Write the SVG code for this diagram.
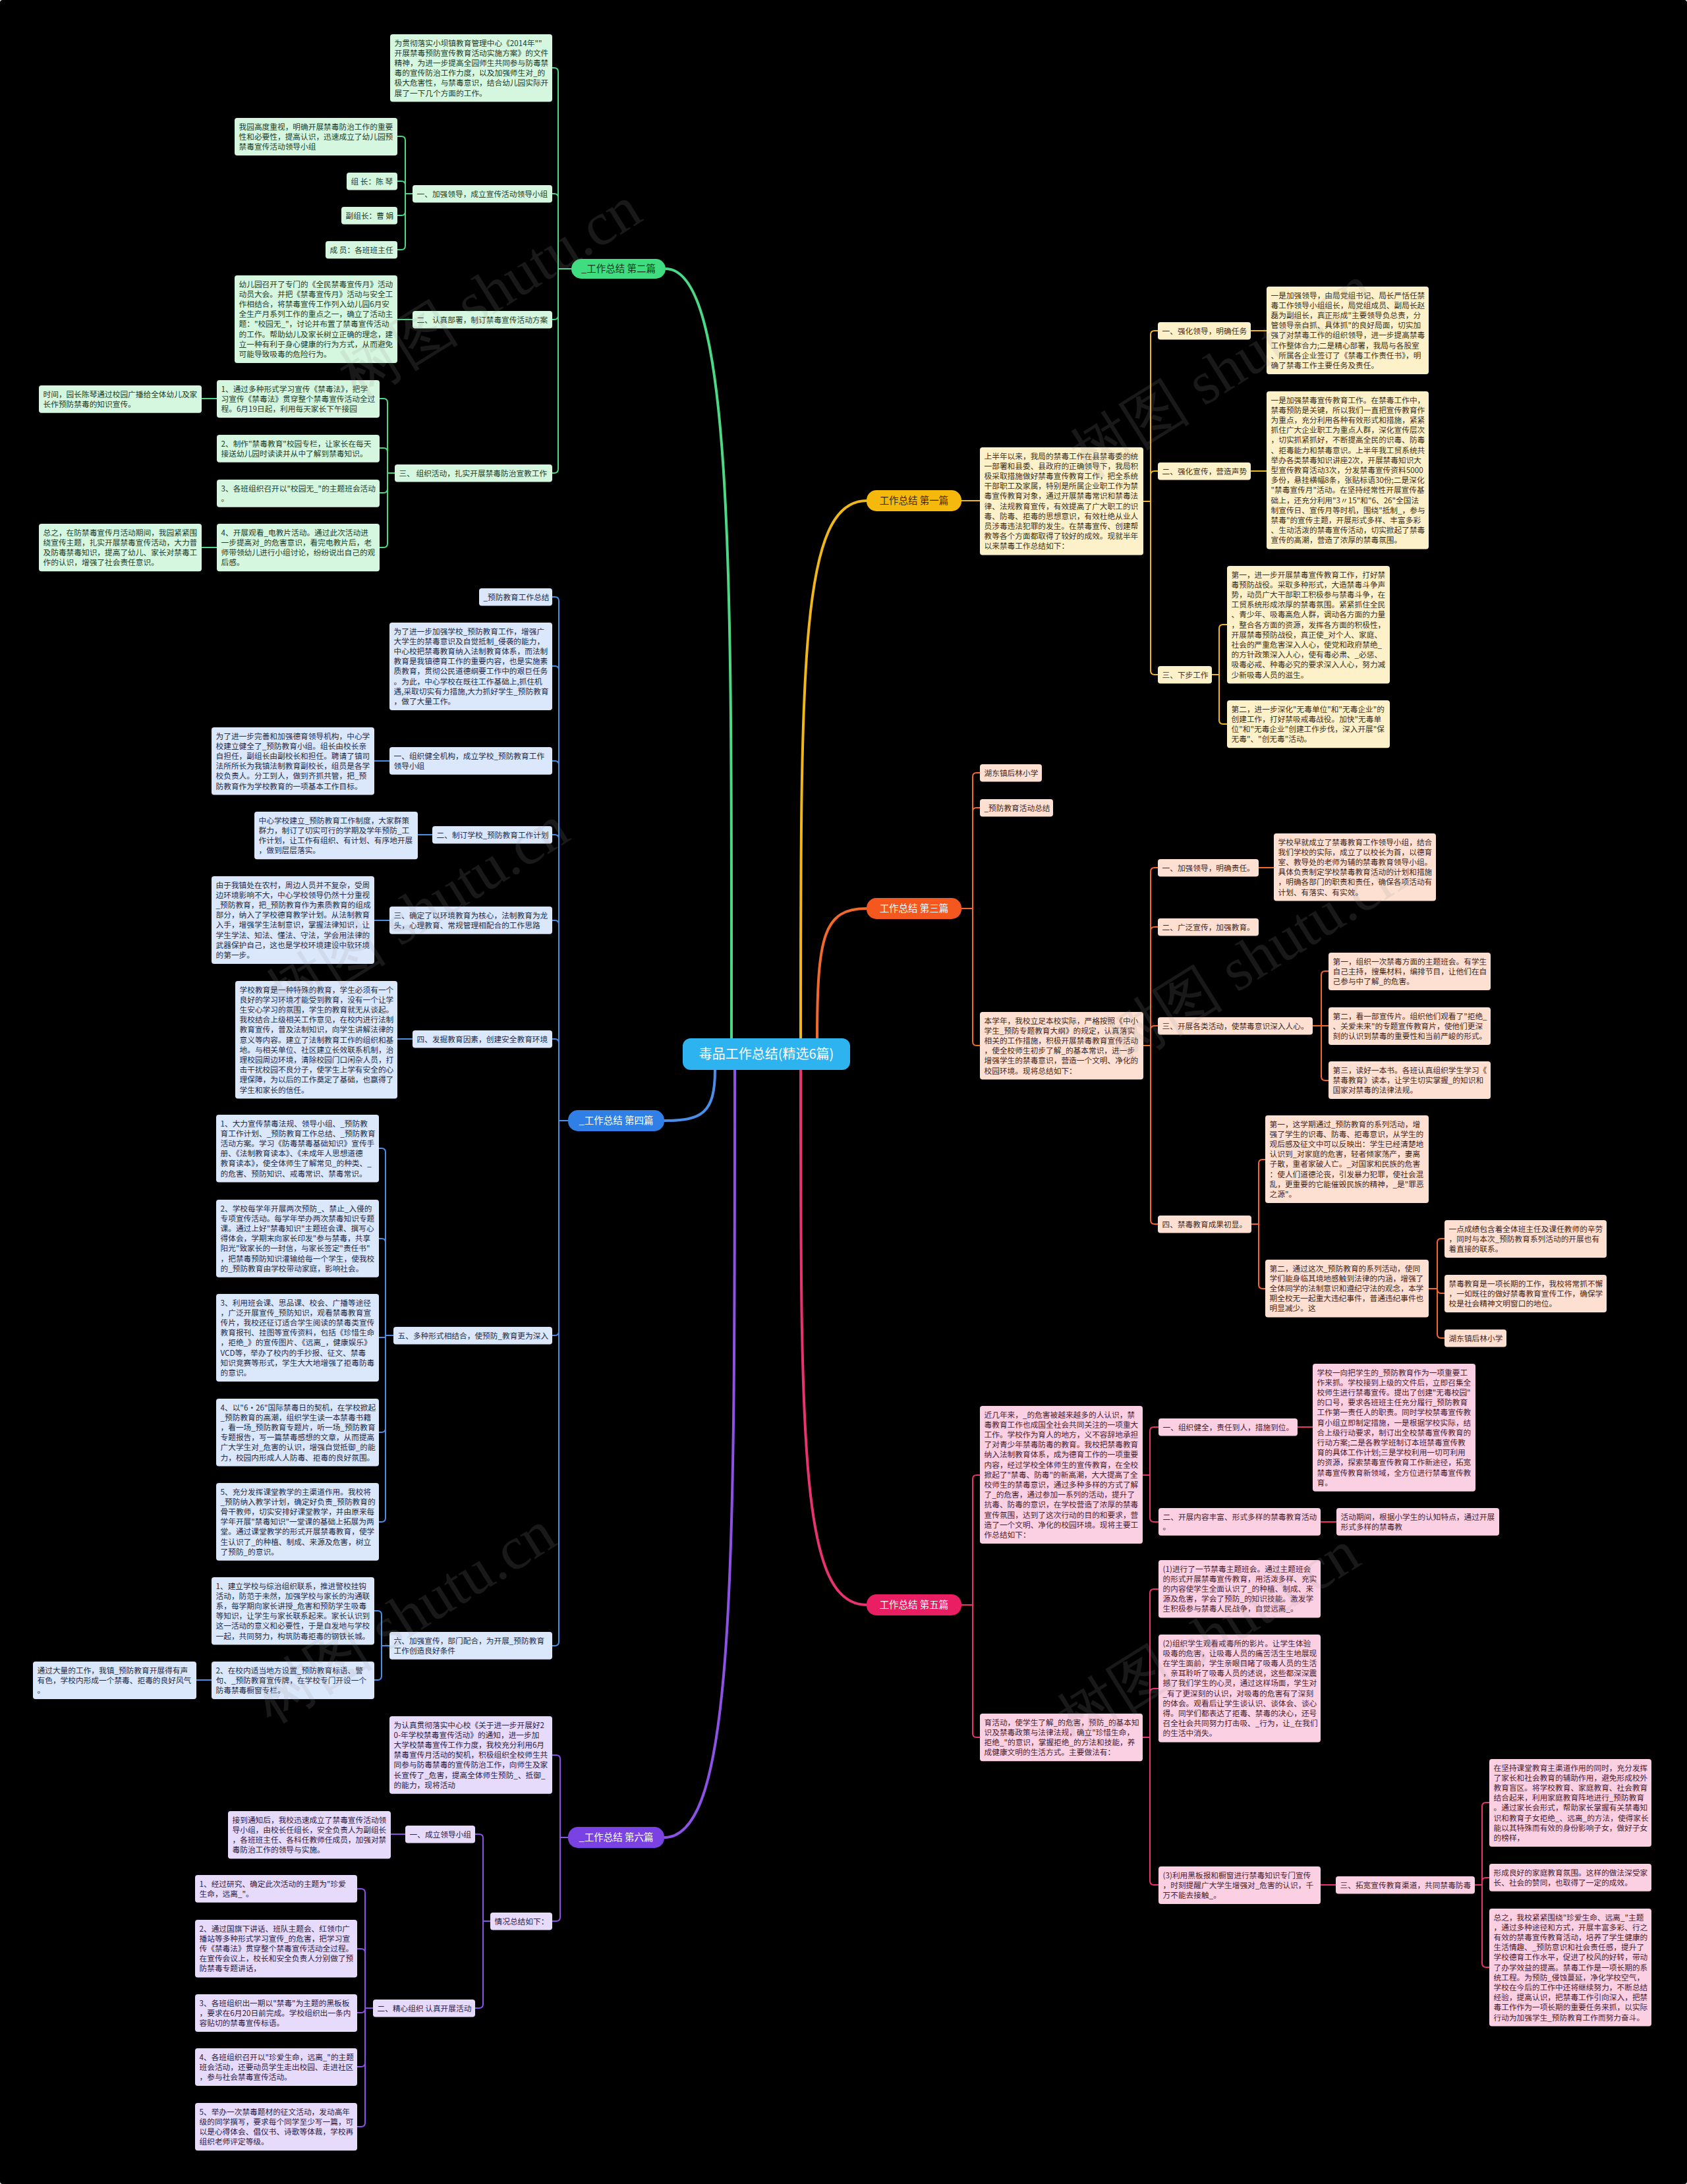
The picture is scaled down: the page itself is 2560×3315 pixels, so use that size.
<svg xmlns="http://www.w3.org/2000/svg" width="2560" height="3315" viewBox="0 0 2560 3315">
<style>
text{font-family:"Noto Sans CJK SC","Noto Sans",sans-serif;font-size:11.7px}
rect{rx:4px;ry:4px}
.gr rect{fill:#d5f6df}.gr text{fill:#23402d}
.bl rect{fill:#dbe7fb}.bl text{fill:#1f2d4a}
.pu rect{fill:#e7dbfb}.pu text{fill:#2e2146}
.ye rect{fill:#fdf1c9}.ye text{fill:#3d321c}
.or rect{fill:#fde0d2}.or text{fill:#45281c}
.pk rect{fill:#fbd0e3}.pk text{fill:#4a1d31}
#connectors path{fill:none;stroke-width:2}
.cg{stroke:#4cd986}.cb{stroke:#4a8ee8}.cp{stroke:#8c52e6}.cy{stroke:#efb719}.co{stroke:#f26a2b}.ck{stroke:#e8336f}
#connectors .m{stroke-width:4}
.br rect{rx:15px;ry:15px}
.br text{font-size:14.5px;text-anchor:middle}
.wm{font-family:"Liberation Serif",serif;font-size:92px;fill:#9a9a9a;opacity:0.16;text-anchor:middle}
</style>
<rect x="0" y="0" width="2560" height="3315" fill="#000" rx="0" ry="0"/>
<g id="connectors">
<path class="cg m" d="M1110,1577 C1110,900 1115,408 1010,408"/>
<path class="cb m" d="M1085,1624 C1085,1690 1065,1701 1008,1701"/>
<path class="cp m" d="M1115,1624 C1115,2400 1115,2789 1008,2789"/>
<path class="cy m" d="M1215,1577 C1215,1000 1215,760 1315,760"/>
<path class="co m" d="M1240,1577 C1240,1420 1250,1379 1315,1379"/>
<path class="ck m" d="M1215,1624 C1215,2200 1215,2436 1315,2436"/>
<path class="cg" d="M867,408 H847 V109 Q847,103 841,103 H838"/>
<path class="cg" d="M867,408 H847 V300 Q847,294 841,294 H838"/>
<path class="cg" d="M867,408 H847 V479 Q847,485 841,485 H838"/>
<path class="cg" d="M867,408 H847 V712 Q847,718 841,718 H838"/>
<path class="cg" d="M626,294 H615 V213 Q615,207 609,207 H603"/>
<path class="cg" d="M626,294 H615 V281 Q615,275 609,275 H603"/>
<path class="cg" d="M626,294 H615 V321 Q615,327 609,327 H603"/>
<path class="cg" d="M626,294 H615 V373 Q615,379 609,379 H603"/>
<path class="cg" d="M626,485 H603"/>
<path class="cg" d="M599,718 H588 V611 Q588,605 582,605 H576"/>
<path class="cg" d="M599,718 H588 V686 Q588,680 582,680 H576"/>
<path class="cg" d="M599,718 H588 V742 Q588,748 582,748 H576"/>
<path class="cg" d="M599,718 H588 V825 Q588,831 582,831 H576"/>
<path class="cg" d="M329,605 H306"/>
<path class="cg" d="M329,831 H306"/>
<path class="cb" d="M862,1701 H848 V912 Q848,906 842,906 H838"/>
<path class="cb" d="M862,1701 H848 V1017 Q848,1011 842,1011 H838"/>
<path class="cb" d="M862,1701 H848 V1161 Q848,1155 842,1155 H838"/>
<path class="cb" d="M862,1701 H848 V1273 Q848,1267 842,1267 H838"/>
<path class="cb" d="M862,1701 H848 V1403 Q848,1397 842,1397 H838"/>
<path class="cb" d="M862,1701 H848 V1583 Q848,1577 842,1577 H838"/>
<path class="cb" d="M862,1701 H848 V2021 Q848,2027 842,2027 H838"/>
<path class="cb" d="M862,1701 H848 V2492 Q848,2498 842,2498 H838"/>
<path class="cb" d="M591,1155 H568"/>
<path class="cb" d="M656,1267 H634"/>
<path class="cb" d="M591,1397 H568"/>
<path class="cb" d="M626,1577 H603"/>
<path class="cb" d="M597,2027 H585 V1749 Q585,1743 579,1743 H575"/>
<path class="cb" d="M597,2027 H585 V1886 Q585,1880 579,1880 H575"/>
<path class="cb" d="M597,2027 H585 V2030 H575"/>
<path class="cb" d="M597,2027 H585 V2168 Q585,2174 579,2174 H575"/>
<path class="cb" d="M597,2027 H585 V2304 Q585,2310 579,2310 H575"/>
<path class="cb" d="M591,2498 H579 V2451 Q579,2445 573,2445 H568"/>
<path class="cb" d="M591,2498 H579 V2544 Q579,2550 573,2550 H568"/>
<path class="cb" d="M321,2550 H298"/>
<path class="cp" d="M862,2789 H850 V2670 Q850,2664 844,2664 H838"/>
<path class="cp" d="M862,2789 H850 V2910 Q850,2916 844,2916 H838"/>
<path class="cp" d="M744,2916 H733 V2790 Q733,2784 727,2784 H721"/>
<path class="cp" d="M744,2916 H733 V3042 Q733,3048 727,3048 H721"/>
<path class="cp" d="M615,2784 H593"/>
<path class="cp" d="M566,3048 H554 V2873 Q554,2867 548,2867 H542"/>
<path class="cp" d="M566,3048 H554 V2964 Q554,2958 548,2958 H542"/>
<path class="cp" d="M566,3048 H554 V3049 Q554,3055 548,3055 H542"/>
<path class="cp" d="M566,3048 H554 V3131 Q554,3137 548,3137 H542"/>
<path class="cp" d="M566,3048 H554 V3222 Q554,3228 548,3228 H542"/>
<path class="cy" d="M1459,760 H1487"/>
<path class="cy" d="M1735,761 H1746 V508 Q1746,502 1752,502 H1757"/>
<path class="cy" d="M1735,761 H1746 V721 Q1746,715 1752,715 H1757"/>
<path class="cy" d="M1735,761 H1746 V1018 Q1746,1024 1752,1024 H1757"/>
<path class="cy" d="M1898,502 H1922"/>
<path class="cy" d="M1898,715 H1922"/>
<path class="cy" d="M1839,1024 H1850 V954 Q1850,948 1856,948 H1862"/>
<path class="cy" d="M1839,1024 H1850 V1093 Q1850,1099 1856,1099 H1862"/>
<path class="co" d="M1459,1379 H1476 V1179 Q1476,1173 1482,1173 H1487"/>
<path class="co" d="M1459,1379 H1476 V1232 Q1476,1226 1482,1226 H1487"/>
<path class="co" d="M1459,1379 H1476 V1581 Q1476,1587 1482,1587 H1487"/>
<path class="co" d="M1735,1587 H1746 V1323 Q1746,1317 1752,1317 H1757"/>
<path class="co" d="M1735,1587 H1746 V1413 Q1746,1407 1752,1407 H1757"/>
<path class="co" d="M1735,1587 H1746 V1563 Q1746,1557 1752,1557 H1757"/>
<path class="co" d="M1735,1587 H1746 V1852 Q1746,1858 1752,1858 H1757"/>
<path class="co" d="M1910,1317 H1933"/>
<path class="co" d="M1992,1557 H2005 V1480 Q2005,1474 2011,1474 H2016"/>
<path class="co" d="M1992,1557 H2016"/>
<path class="co" d="M1992,1557 H2005 V1634 Q2005,1640 2011,1640 H2016"/>
<path class="co" d="M1899,1858 H1910 V1766 Q1910,1760 1916,1760 H1920"/>
<path class="co" d="M1899,1858 H1910 V1950 Q1910,1956 1916,1956 H1920"/>
<path class="co" d="M2168,1956 H2181 V1886 Q2181,1880 2187,1880 H2192"/>
<path class="co" d="M2168,1956 H2181 V1957 Q2181,1963 2187,1963 H2192"/>
<path class="co" d="M2168,1956 H2181 V2025 Q2181,2031 2187,2031 H2192"/>
<path class="ck" d="M1459,2436 H1476 V2245 Q1476,2239 1482,2239 H1487"/>
<path class="ck" d="M1459,2436 H1476 V2631 Q1476,2637 1482,2637 H1487"/>
<path class="ck" d="M1734,2239 H1745 V2172 Q1745,2166 1751,2166 H1758"/>
<path class="ck" d="M1734,2239 H1745 V2304 Q1745,2310 1751,2310 H1758"/>
<path class="ck" d="M1969,2166 H1992"/>
<path class="ck" d="M2004,2310 H2028"/>
<path class="ck" d="M1734,2637 H1745 V2418 Q1745,2412 1751,2412 H1758"/>
<path class="ck" d="M1734,2637 H1745 V2569 Q1745,2563 1751,2563 H1758"/>
<path class="ck" d="M1734,2637 H1745 V2855 Q1745,2861 1751,2861 H1758"/>
<path class="ck" d="M2004,2861 H2027"/>
<path class="ck" d="M2238,2861 H2249 V2742 Q2249,2736 2255,2736 H2260"/>
<path class="ck" d="M2238,2861 H2249 V2856 Q2249,2850 2255,2850 H2260"/>
<path class="ck" d="M2238,2861 H2249 V2980 Q2249,2986 2255,2986 H2260"/>
</g>

<g id="center"><rect x="1036" y="1576" width="254" height="48" fill="#2db4f0" style="rx:12px;ry:12px"/><text x="1163" y="1607" style="font-size:20px;text-anchor:middle;fill:#fff">毒品工作总结(精选6篇)</text></g>

<g id="branch2" class="br"><rect x="867" y="393" width="143" height="30" style="fill:#3fdc80"/><text x="938.5" y="413" style="fill:#14361f">_工作总结 第二篇</text></g>
<g id="branch1" class="br"><rect x="1315" y="744" width="144" height="32" style="fill:#f5b90e"/><text x="1387" y="765" style="fill:#3a2a00">工作总结 第一篇</text></g>
<g id="branch3" class="br"><rect x="1315" y="1363" width="144" height="32" style="fill:#f4581f"/><text x="1387" y="1384" style="fill:#fff">工作总结 第三篇</text></g>
<g id="branch4" class="br"><rect x="862" y="1685" width="146" height="32" style="fill:#2f7fe6"/><text x="935" y="1706" style="fill:#fff">_工作总结 第四篇</text></g>
<g id="branch5" class="br"><rect x="1315" y="2420" width="144" height="32" style="fill:#e91e63"/><text x="1387" y="2441" style="fill:#fff">工作总结 第五篇</text></g>
<g id="branch6" class="br"><rect x="862" y="2773" width="146" height="32" style="fill:#7b42e3"/><text x="935" y="2794" style="fill:#fff">_工作总结 第六篇</text></g>

<g id="G0" class="gr"><rect x="592" y="52" width="246" height="102.6"/><text x="598.5" y="69.6"><tspan x="598.5">为贯彻落实小坝镇教育管理中心《2014年""</tspan><tspan x="598.5" dy="15.2">开展禁毒预防宣传教育活动实施方案》的文件</tspan><tspan x="598.5" dy="15.2">精神，为进一步提高全园师生共同参与防毒禁</tspan><tspan x="598.5" dy="15.2">毒的宣传防治工作力度，以及加强师生对_的</tspan><tspan x="598.5" dy="15.2">极大危害性，与禁毒意识，结合幼儿园实际开</tspan><tspan x="598.5" dy="15.2">展了一下几个方面的工作。</tspan></text></g>
<g id="G1" class="gr"><rect x="626" y="281" width="212" height="26.6"/><text x="632.5" y="298.6">一、加强领导，成立宣传活动领导小组</text></g>
<g id="G1a" class="gr"><rect x="356" y="179" width="247" height="57"/><text x="362.5" y="196.6"><tspan x="362.5">我园高度重视，明确开展禁毒防治工作的重要</tspan><tspan x="362.5" dy="15.2">性和必要性，提高认识，迅速成立了幼儿园预</tspan><tspan x="362.5" dy="15.2">禁毒宣传活动领导小组</tspan></text></g>
<g id="G1b" class="gr"><rect x="526" y="262" width="77" height="26.6"/><text x="532.5" y="279.6">组 长：陈 琴</text></g>
<g id="G1c" class="gr"><rect x="518" y="314" width="85" height="26.6"/><text x="524.5" y="331.6">副组长：曹 娟</text></g>
<g id="G1d" class="gr"><rect x="494" y="366" width="109" height="26.6"/><text x="500.5" y="383.6">成 员：各班班主任</text></g>
<g id="G2" class="gr"><rect x="626" y="472" width="212" height="26.6"/><text x="632.5" y="489.6">二、认真部署，制订禁毒宣传活动方案</text></g>
<g id="G2a" class="gr"><rect x="356" y="418" width="247" height="133"/><text x="362.5" y="435.6"><tspan x="362.5">幼儿园召开了专门的《全民禁毒宣传月》活动</tspan><tspan x="362.5" dy="15.2">动员大会。并把《禁毒宣传月》活动与安全工</tspan><tspan x="362.5" dy="15.2">作相结合，将禁毒宣传工作列入幼儿园6月安</tspan><tspan x="362.5" dy="15.2">全生产月系列工作的重点之一，确立了活动主</tspan><tspan x="362.5" dy="15.2">题："校园无_"，讨论并布置了禁毒宣传活动</tspan><tspan x="362.5" dy="15.2">的工作。帮助幼儿及家长树立正确的理念，建</tspan><tspan x="362.5" dy="15.2">立一种有利于身心健康的行为方式，从而避免</tspan><tspan x="362.5" dy="15.2">可能导致吸毒的危险行为。</tspan></text></g>
<g id="G3" class="gr"><rect x="599" y="705" width="239" height="26.6"/><text x="605.5" y="722.6">三、 组织活动，扎实开展禁毒防治宣教工作</text></g>
<g id="G3a" class="gr"><rect x="329" y="577" width="247" height="57"/><text x="335.5" y="594.6"><tspan x="335.5">1、通过多种形式学习宣传《禁毒法》，把学</tspan><tspan x="335.5" dy="15.2">习宣传《禁毒法》贯穿整个禁毒宣传活动全过</tspan><tspan x="335.5" dy="15.2">程。6月19日起，利用每天家长下午接园</tspan></text></g>
<g id="G3a1" class="gr"><rect x="59" y="585" width="247" height="41.8"/><text x="65.5" y="602.6"><tspan x="65.5">时间，园长陈琴通过校园广播给全体幼儿及家</tspan><tspan x="65.5" dy="15.2">长作预防禁毒的知识宣传。</tspan></text></g>
<g id="G3b" class="gr"><rect x="329" y="660" width="247" height="41.8"/><text x="335.5" y="677.6"><tspan x="335.5">2、制作"禁毒教育"校园专栏，让家长在每天</tspan><tspan x="335.5" dy="15.2">接送幼儿园时读读并从中了解到禁毒知识。</tspan></text></g>
<g id="G3c" class="gr"><rect x="329" y="728" width="247" height="41.8"/><text x="335.5" y="745.6"><tspan x="335.5">3、各班组织召开以"校园无_"的主题班会活动</tspan><tspan x="335.5" dy="15.2">。</tspan></text></g>
<g id="G3d" class="gr"><rect x="329" y="795" width="247" height="72.2"/><text x="335.5" y="812.6"><tspan x="335.5">4、开展观看_电教片活动。通过此次活动进</tspan><tspan x="335.5" dy="15.2">一步提高对_的危害意识，看完电教片后，老</tspan><tspan x="335.5" dy="15.2">师带领幼儿进行小组讨论，纷纷说出自己的观</tspan><tspan x="335.5" dy="15.2">后感。</tspan></text></g>
<g id="G3d1" class="gr"><rect x="59" y="795" width="247" height="72.2"/><text x="65.5" y="812.6"><tspan x="65.5">总之，在防禁毒宣传月活动期间，我园紧紧围</tspan><tspan x="65.5" dy="15.2">绕宣传主题，扎实开展禁毒宣传活动，大力普</tspan><tspan x="65.5" dy="15.2">及防毒禁毒知识，提高了幼儿、家长对禁毒工</tspan><tspan x="65.5" dy="15.2">作的认识，增强了社会责任意识。</tspan></text></g>

<g id="B0" class="bl"><rect x="727" y="893" width="111" height="26.6"/><text x="733.5" y="910.6">_预防教育工作总结</text></g>
<g id="B1" class="bl"><rect x="591" y="945" width="247" height="133"/><text x="597.5" y="962.6"><tspan x="597.5">为了进一步加强学校_预防教育工作，增强广</tspan><tspan x="597.5" dy="15.2">大学生的禁毒意识及自觉抵制_侵袭的能力，</tspan><tspan x="597.5" dy="15.2">中心校把禁毒教育纳入法制教育体系，而法制</tspan><tspan x="597.5" dy="15.2">教育是我镇德育工作的重要内容，也是实施素</tspan><tspan x="597.5" dy="15.2">质教育，贯彻公民道德纲要工作中的艰巨任务</tspan><tspan x="597.5" dy="15.2">。为此，中心学校在既往工作基础上,抓住机</tspan><tspan x="597.5" dy="15.2">遇,采取切实有力措施,大力抓好学生_预防教育</tspan><tspan x="597.5" dy="15.2">，做了大量工作。</tspan></text></g>
<g id="B2" class="bl"><rect x="591" y="1134" width="247" height="41.8"/><text x="597.5" y="1151.6"><tspan x="597.5">一、组织健全机构，成立学校_预防教育工作</tspan><tspan x="597.5" dy="15.2">领导小组</tspan></text></g>
<g id="B2a" class="bl"><rect x="321" y="1104" width="247" height="102.6"/><text x="327.5" y="1121.6"><tspan x="327.5">为了进一步完善和加强德育领导机构，中心学</tspan><tspan x="327.5" dy="15.2">校建立健全了_预防教育小组。组长由校长亲</tspan><tspan x="327.5" dy="15.2">自担任，副组长由副校长和担任。聘请了镇司</tspan><tspan x="327.5" dy="15.2">法所所长为我镇法制教育副校长，组员是各学</tspan><tspan x="327.5" dy="15.2">校负责人。分工到人，做到齐抓共管，把_预</tspan><tspan x="327.5" dy="15.2">防教育作为学校教育的一项基本工作目标。</tspan></text></g>
<g id="B3" class="bl"><rect x="656" y="1254" width="182" height="26.6"/><text x="662.5" y="1271.6">二、制订学校_预防教育工作计划</text></g>
<g id="B3a" class="bl"><rect x="386" y="1232" width="248" height="72.2"/><text x="392.5" y="1249.6"><tspan x="392.5">中心学校建立_预防教育工作制度，大家群策</tspan><tspan x="392.5" dy="15.2">群力，制订了切实可行的学期及学年预防_工</tspan><tspan x="392.5" dy="15.2">作计划，让工作有组织、有计划、有序地开展</tspan><tspan x="392.5" dy="15.2">，做到层层落实。</tspan></text></g>
<g id="B4" class="bl"><rect x="591" y="1376" width="247" height="41.8"/><text x="597.5" y="1393.6"><tspan x="597.5">三、确定了以环境教育为核心，法制教育为龙</tspan><tspan x="597.5" dy="15.2">头，心理教育、常规管理相配合的工作思路</tspan></text></g>
<g id="B4a" class="bl"><rect x="321" y="1330" width="247" height="133"/><text x="327.5" y="1347.6"><tspan x="327.5">由于我镇处在农村，周边人员并不复杂，受周</tspan><tspan x="327.5" dy="15.2">边环境影响不大，中心学校领导仍然十分重视</tspan><tspan x="327.5" dy="15.2">_预防教育，把_预防教育作为素质教育的组成</tspan><tspan x="327.5" dy="15.2">部分，纳入了学校德育教学计划。从法制教育</tspan><tspan x="327.5" dy="15.2">入手，增强学生法制意识，掌握法律知识，让</tspan><tspan x="327.5" dy="15.2">学生学法、知法、懂法、守法，学会用法律的</tspan><tspan x="327.5" dy="15.2">武器保护自己，这也是学校环境建设中软环境</tspan><tspan x="327.5" dy="15.2">的第一步。</tspan></text></g>
<g id="B5" class="bl"><rect x="626" y="1564" width="212" height="26.6"/><text x="632.5" y="1581.6">四、发掘教育因素，创建安全教育环境</text></g>
<g id="B5a" class="bl"><rect x="357" y="1489" width="246" height="178.6"/><text x="363.5" y="1506.6"><tspan x="363.5">学校教育是一种特殊的教育，学生必须有一个</tspan><tspan x="363.5" dy="15.2">良好的学习环境才能受到教育，没有一个让学</tspan><tspan x="363.5" dy="15.2">生安心学习的氛围，学生的教育就无从谈起。</tspan><tspan x="363.5" dy="15.2">我校结合上级相关工作意见，在校内进行法制</tspan><tspan x="363.5" dy="15.2">教育宣传，普及法制知识，向学生讲解法律的</tspan><tspan x="363.5" dy="15.2">意义等内容。建立了法制教育工作的组织和基</tspan><tspan x="363.5" dy="15.2">地。与相关单位、社区建立长效联系机制，治</tspan><tspan x="363.5" dy="15.2">理校园周边环境，清除校园门口闲杂人员，打</tspan><tspan x="363.5" dy="15.2">击干扰校园不良分子，使学生上学有安全的心</tspan><tspan x="363.5" dy="15.2">理保障，为以后的工作奠定了基础，也赢得了</tspan><tspan x="363.5" dy="15.2">学生和家长的信任。</tspan></text></g>
<g id="B6" class="bl"><rect x="597" y="2014" width="241" height="26.6"/><text x="603.5" y="2031.6">五、多种形式相结合，使预防_教育更为深入</text></g>
<g id="B6a" class="bl"><rect x="328" y="1692" width="247" height="102.6"/><text x="334.5" y="1709.6"><tspan x="334.5">1、大力宣传禁毒法规、领导小组、_预防教</tspan><tspan x="334.5" dy="15.2">育工作计划、_预防教育工作总结、_预防教育</tspan><tspan x="334.5" dy="15.2">活动方案。学习《防毒禁毒基础知识》宣传手</tspan><tspan x="334.5" dy="15.2">册、《法制教育读本》、《未成年人思想道德</tspan><tspan x="334.5" dy="15.2">教育读本》，使全体师生了解常见_的种类、_</tspan><tspan x="334.5" dy="15.2">的危害、预防知识、戒毒常识、禁毒常识。</tspan></text></g>
<g id="B6b" class="bl"><rect x="328" y="1821" width="247" height="117.8"/><text x="334.5" y="1838.6"><tspan x="334.5">2、学校每学年开展两次预防_、禁止_入侵的</tspan><tspan x="334.5" dy="15.2">专项宣传活动。每学年举办两次禁毒知识专题</tspan><tspan x="334.5" dy="15.2">课。通过上好"禁毒知识"主题班会课、撰写心</tspan><tspan x="334.5" dy="15.2">得体会，学期末向家长印发"参与禁毒，共享</tspan><tspan x="334.5" dy="15.2">阳光"致家长的一封信，与家长签定"责任书"</tspan><tspan x="334.5" dy="15.2">，把禁毒预防知识灌输给每一个学生，使我校</tspan><tspan x="334.5" dy="15.2">的_预防教育由学校带动家庭，影响社会。</tspan></text></g>
<g id="B6c" class="bl"><rect x="328" y="1964" width="247" height="133"/><text x="334.5" y="1981.6"><tspan x="334.5">3、利用班会课、思品课、校会、广播等途径</tspan><tspan x="334.5" dy="15.2">，广泛开展宣传_预防知识，观看禁毒教育宣</tspan><tspan x="334.5" dy="15.2">传片，我校还征订适合学生阅读的禁毒类宣传</tspan><tspan x="334.5" dy="15.2">教育报刊、挂图等宣传资料，包括《珍惜生命</tspan><tspan x="334.5" dy="15.2">，拒绝_》的宣传图片、《远离_，健康娱乐》</tspan><tspan x="334.5" dy="15.2">VCD等，举办了校内的手抄报、征文、禁毒</tspan><tspan x="334.5" dy="15.2">知识竞赛等形式，学生大大地增强了拒毒防毒</tspan><tspan x="334.5" dy="15.2">的意识。</tspan></text></g>
<g id="B6d" class="bl"><rect x="328" y="2123" width="247" height="102.6"/><text x="334.5" y="2140.6"><tspan x="334.5">4、以"6•26"国际禁毒日的契机，在学校掀起</tspan><tspan x="334.5" dy="15.2">_预防教育的高潮，组织学生读一本禁毒书籍</tspan><tspan x="334.5" dy="15.2">，看一场_预防教育专题片，听一场_预防教育</tspan><tspan x="334.5" dy="15.2">专题报告，写一篇禁毒感想的文章，从而提高</tspan><tspan x="334.5" dy="15.2">广大学生对_危害的认识，增强自觉抵御_的能</tspan><tspan x="334.5" dy="15.2">力，校园内形成人人防毒、拒毒的良好氛围。</tspan></text></g>
<g id="B6e" class="bl"><rect x="328" y="2251" width="247" height="117.8"/><text x="334.5" y="2268.6"><tspan x="334.5">5、充分发挥课堂教学的主渠道作用。我校将</tspan><tspan x="334.5" dy="15.2">_预防纳入教学计划，确定好负责_预防教育的</tspan><tspan x="334.5" dy="15.2">骨干教师，切实安排好课堂教学，并由原来每</tspan><tspan x="334.5" dy="15.2">学年开展"禁毒知识"一堂课的基础上拓展为两</tspan><tspan x="334.5" dy="15.2">堂。通过课堂教学的形式开展禁毒教育，使学</tspan><tspan x="334.5" dy="15.2">生认识了_的种植、制成、来源及危害，树立</tspan><tspan x="334.5" dy="15.2">了预防_的意识。</tspan></text></g>
<g id="B7" class="bl"><rect x="591" y="2477" width="247" height="41.8"/><text x="597.5" y="2494.6"><tspan x="597.5">六、加强宣传，部门配合，为开展_预防教育</tspan><tspan x="597.5" dy="15.2">工作创造良好条件</tspan></text></g>
<g id="B7a" class="bl"><rect x="321" y="2394" width="247" height="102.6"/><text x="327.5" y="2411.6"><tspan x="327.5">1、建立学校与综治组织联系，推进警校挂钩</tspan><tspan x="327.5" dy="15.2">活动，防范于未然，加强学校与家长的沟通联</tspan><tspan x="327.5" dy="15.2">系，每学期向家长讲授_危害和预防学生吸毒</tspan><tspan x="327.5" dy="15.2">等知识，让学生与家长联系起来。家长认识到</tspan><tspan x="327.5" dy="15.2">这一活动的意义和必要性，于是自发地与学校</tspan><tspan x="327.5" dy="15.2">一起，共同努力，构筑防毒拒毒的钢铁长城。</tspan></text></g>
<g id="B7b" class="bl"><rect x="321" y="2522" width="247" height="57"/><text x="327.5" y="2539.6"><tspan x="327.5">2、在校内适当地方设置_预防教育标语、警</tspan><tspan x="327.5" dy="15.2">句、_预防教育宣传牌，在学校专门开设一个</tspan><tspan x="327.5" dy="15.2">防毒禁毒橱窗专栏。</tspan></text></g>
<g id="B7b1" class="bl"><rect x="50" y="2522" width="248" height="57"/><text x="56.5" y="2539.6"><tspan x="56.5">通过大量的工作，我镇_预防教育开展得有声</tspan><tspan x="56.5" dy="15.2">有色，学校内形成一个禁毒、拒毒的良好风气</tspan><tspan x="56.5" dy="15.2">。</tspan></text></g>

<g id="P0" class="pu"><rect x="591" y="2605" width="247" height="117.8"/><text x="597.5" y="2622.6"><tspan x="597.5">为认真贯彻落实中心校《关于进一步开展好2</tspan><tspan x="597.5" dy="15.2">0-年学校禁毒宣传活动》的通知，进一步加</tspan><tspan x="597.5" dy="15.2">大学校禁毒宣传工作力度，我校充分利用6月</tspan><tspan x="597.5" dy="15.2">禁毒宣传月活动的契机，积极组织全校师生共</tspan><tspan x="597.5" dy="15.2">同参与防毒禁毒的宣传防治工作，向师生及家</tspan><tspan x="597.5" dy="15.2">长宣传了_危害，提高全体师生预防_、抵御_</tspan><tspan x="597.5" dy="15.2">的能力，现将活动</tspan></text></g>
<g id="P1" class="pu"><rect x="744" y="2903" width="94" height="26.6"/><text x="750.5" y="2920.6">情况总结如下：</text></g>
<g id="P1a" class="pu"><rect x="615" y="2771" width="106" height="26.6"/><text x="621.5" y="2788.6">一、成立领导小组</text></g>
<g id="P1a1" class="pu"><rect x="346" y="2749" width="247" height="72.2"/><text x="352.5" y="2766.6"><tspan x="352.5">接到通知后，我校迅速成立了禁毒宣传活动领</tspan><tspan x="352.5" dy="15.2">导小组，由校长任组长，安全负责人为副组长</tspan><tspan x="352.5" dy="15.2">，各班班主任、各科任教师任成员，加强对禁</tspan><tspan x="352.5" dy="15.2">毒防治工作的领导与实施。</tspan></text></g>
<g id="P1b" class="pu"><rect x="566" y="3035" width="155" height="26.6"/><text x="572.5" y="3052.6">二、精心组织 认真开展活动</text></g>
<g id="P1b1" class="pu"><rect x="296" y="2846" width="246" height="41.8"/><text x="302.5" y="2863.6"><tspan x="302.5">1、经过研究、确定此次活动的主题为"珍爱</tspan><tspan x="302.5" dy="15.2">生命，远离_"。</tspan></text></g>
<g id="P1b2" class="pu"><rect x="296" y="2914" width="246" height="87.4"/><text x="302.5" y="2931.6"><tspan x="302.5">2、通过国旗下讲话、班队主题会、红领巾广</tspan><tspan x="302.5" dy="15.2">播站等多种形式学习宣传_的危害，把学习宣</tspan><tspan x="302.5" dy="15.2">传《禁毒法》贯穿整个禁毒宣传活动全过程。</tspan><tspan x="302.5" dy="15.2">在宣传会议上，校长和安全负责人分别做了预</tspan><tspan x="302.5" dy="15.2">防禁毒专题讲话，</tspan></text></g>
<g id="P1b3" class="pu"><rect x="296" y="3027" width="246" height="57"/><text x="302.5" y="3044.6"><tspan x="302.5">3、各班组织出一期以"禁毒"为主题的黑板板</tspan><tspan x="302.5" dy="15.2">，要求在6月20日前完成。学校组织出一条内</tspan><tspan x="302.5" dy="15.2">容贴切的禁毒宣传标语。</tspan></text></g>
<g id="P1b4" class="pu"><rect x="296" y="3109" width="246" height="57"/><text x="302.5" y="3126.6"><tspan x="302.5">4、各班组织召开以"珍爱生命，远离_"的主题</tspan><tspan x="302.5" dy="15.2">班会活动，还要动员学生走出校园、走进社区</tspan><tspan x="302.5" dy="15.2">，参与社会禁毒宣传活动。</tspan></text></g>
<g id="P1b5" class="pu"><rect x="296" y="3192" width="246" height="72.2"/><text x="302.5" y="3209.6"><tspan x="302.5">5、举办一次禁毒题材的征文活动，发动高年</tspan><tspan x="302.5" dy="15.2">级的同学撰写，要求每个同学至少写一篇，可</tspan><tspan x="302.5" dy="15.2">以是心得体会、倡仪书、诗歌等体裁，学校再</tspan><tspan x="302.5" dy="15.2">组织老师评定等级。</tspan></text></g>

<g id="Y0" class="ye"><rect x="1487" y="679" width="248" height="163.4"/><text x="1493.5" y="696.6"><tspan x="1493.5">上半年以来，我局的禁毒工作在县禁毒委的统</tspan><tspan x="1493.5" dy="15.2">一部署和县委、县政府的正确领导下，我局积</tspan><tspan x="1493.5" dy="15.2">极采取措施做好禁毒宣传教育工作，把全系统</tspan><tspan x="1493.5" dy="15.2">干部职工及家属，特别是所属企业职工作为禁</tspan><tspan x="1493.5" dy="15.2">毒宣传教育对象，通过开展禁毒常识和禁毒法</tspan><tspan x="1493.5" dy="15.2">律、法规教育宣传，有效提高了广大职工的识</tspan><tspan x="1493.5" dy="15.2">毒、防毒、拒毒的思想意识，有效杜绝从业人</tspan><tspan x="1493.5" dy="15.2">员涉毒违法犯罪的发生。在禁毒宣传、创建帮</tspan><tspan x="1493.5" dy="15.2">教等各个方面都取得了较好的成效。现就半年</tspan><tspan x="1493.5" dy="15.2">以来禁毒工作总结如下：</tspan></text></g>
<g id="Y1" class="ye"><rect x="1757" y="489" width="141" height="26.6"/><text x="1763.5" y="506.6">一、强化领导，明确任务</text></g>
<g id="Y1a" class="ye"><rect x="1922" y="435" width="246" height="133"/><text x="1928.5" y="452.6"><tspan x="1928.5">一是加强领导，由局党组书记、局长严恬任禁</tspan><tspan x="1928.5" dy="15.2">毒工作领导小组组长，局党组成员、副局长赵</tspan><tspan x="1928.5" dy="15.2">磊为副组长，真正形成"主要领导负总责，分</tspan><tspan x="1928.5" dy="15.2">管领导亲自抓、具体抓"的良好局面，切实加</tspan><tspan x="1928.5" dy="15.2">强了对禁毒工作的组织领导，进一步提高禁毒</tspan><tspan x="1928.5" dy="15.2">工作整体合力;二是精心部署，我局与各股室</tspan><tspan x="1928.5" dy="15.2">、所属各企业签订了《禁毒工作责任书》，明</tspan><tspan x="1928.5" dy="15.2">确了禁毒工作主要任务及责任。</tspan></text></g>
<g id="Y2" class="ye"><rect x="1757" y="702" width="141" height="26.6"/><text x="1763.5" y="719.6">二、强化宣传，营造声势</text></g>
<g id="Y2a" class="ye"><rect x="1922" y="594" width="246" height="239.4"/><text x="1928.5" y="611.6"><tspan x="1928.5">一是加强禁毒宣传教育工作。在禁毒工作中，</tspan><tspan x="1928.5" dy="15.2">禁毒预防是关键，所以我们一直把宣传教育作</tspan><tspan x="1928.5" dy="15.2">为重点，充分利用各种有效形式和措施，紧紧</tspan><tspan x="1928.5" dy="15.2">抓住广大企业职工为重点人群，深化宣传层次</tspan><tspan x="1928.5" dy="15.2">，切实抓紧抓好，不断提高全民的识毒、防毒</tspan><tspan x="1928.5" dy="15.2">、拒毒能力和禁毒意识。上半年我工贸系统共</tspan><tspan x="1928.5" dy="15.2">举办各类禁毒知识讲座2次，开展禁毒知识大</tspan><tspan x="1928.5" dy="15.2">型宣传教育活动3次，分发禁毒宣传资料5000</tspan><tspan x="1928.5" dy="15.2">多份，悬挂横幅8条，张贴标语30份;二是深化</tspan><tspan x="1928.5" dy="15.2">"禁毒宣传月"活动。在坚持经常性开展宣传基</tspan><tspan x="1928.5" dy="15.2">础上，还充分利用"3〃15"和"6、26"全国法</tspan><tspan x="1928.5" dy="15.2">制宣传日、宣传月等时机，围绕"抵制_，参与</tspan><tspan x="1928.5" dy="15.2">禁毒"的宣传主题，开展形式多样、丰富多彩</tspan><tspan x="1928.5" dy="15.2">、生动活泼的禁毒宣传活动，切实掀起了禁毒</tspan><tspan x="1928.5" dy="15.2">宣传的高潮，营造了浓厚的禁毒氛围。</tspan></text></g>
<g id="Y3" class="ye"><rect x="1757" y="1011" width="82" height="26.6"/><text x="1763.5" y="1028.6">三、下步工作</text></g>
<g id="Y3a" class="ye"><rect x="1862" y="859" width="247" height="178.6"/><text x="1868.5" y="876.6"><tspan x="1868.5">第一，进一步开展禁毒宣传教育工作，打好禁</tspan><tspan x="1868.5" dy="15.2">毒预防战役。采取多种形式，大造禁毒斗争声</tspan><tspan x="1868.5" dy="15.2">势，动员广大干部职工积极参与禁毒斗争，在</tspan><tspan x="1868.5" dy="15.2">工贸系统形成浓厚的禁毒氛围。紧紧抓住全民</tspan><tspan x="1868.5" dy="15.2">、青少年、吸毒高危人群，调动各方面的力量</tspan><tspan x="1868.5" dy="15.2">，整合各方面的资源，发挥各方面的积极性，</tspan><tspan x="1868.5" dy="15.2">开展禁毒预防战役，真正使_对个人、家庭、</tspan><tspan x="1868.5" dy="15.2">社会的严重危害深入人心，使党和政府禁绝_</tspan><tspan x="1868.5" dy="15.2">的方针政策深入人心，使有毒必肃、_必惩、</tspan><tspan x="1868.5" dy="15.2">吸毒必戒、种毒必究的要求深入人心，努力减</tspan><tspan x="1868.5" dy="15.2">少新吸毒人员的滋生。</tspan></text></g>
<g id="Y3b" class="ye"><rect x="1862" y="1063" width="247" height="72.2"/><text x="1868.5" y="1080.6"><tspan x="1868.5">第二，进一步深化"无毒单位"和"无毒企业"的</tspan><tspan x="1868.5" dy="15.2">创建工作，打好禁吸戒毒战役。加快"无毒单</tspan><tspan x="1868.5" dy="15.2">位"和"无毒企业"创建工作步伐，深入开展"保</tspan><tspan x="1868.5" dy="15.2">无毒"、"创无毒"活动。</tspan></text></g>

<g id="O1" class="or"><rect x="1487" y="1160" width="94" height="26.6"/><text x="1493.5" y="1177.6">湖东镇后林小学</text></g>
<g id="O2" class="or"><rect x="1487" y="1213" width="111" height="26.6"/><text x="1493.5" y="1230.6">_预防教育活动总结</text></g>
<g id="O3" class="or"><rect x="1487" y="1536" width="248" height="102.6"/><text x="1493.5" y="1553.6"><tspan x="1493.5">本学年，我校立足本校实际，严格按照《中小</tspan><tspan x="1493.5" dy="15.2">学生_预防专题教育大纲》的规定，认真落实</tspan><tspan x="1493.5" dy="15.2">相关的工作措施，积极开展禁毒教育宣传活动</tspan><tspan x="1493.5" dy="15.2">，使全校师生初步了解_的基本常识，进一步</tspan><tspan x="1493.5" dy="15.2">增强学生的禁毒意识，营造一个文明、净化的</tspan><tspan x="1493.5" dy="15.2">校园环境。现将总结如下：</tspan></text></g>
<g id="O4" class="or"><rect x="1757" y="1304" width="153" height="26.6"/><text x="1763.5" y="1321.6">一、加强领导，明确责任。</text></g>
<g id="O4a" class="or"><rect x="1933" y="1265" width="246" height="102.6"/><text x="1939.5" y="1282.6"><tspan x="1939.5">学校早就成立了禁毒教育工作领导小组，结合</tspan><tspan x="1939.5" dy="15.2">我们学校的实际，成立了以校长为首，以德育</tspan><tspan x="1939.5" dy="15.2">室、教导处的老师为辅的禁毒教育领导小组。</tspan><tspan x="1939.5" dy="15.2">具体负责制定学校禁毒教育活动的计划和措施</tspan><tspan x="1939.5" dy="15.2">，明确各部门的职责和责任，确保各项活动有</tspan><tspan x="1939.5" dy="15.2">计划、有落实、有实效。</tspan></text></g>
<g id="O5" class="or"><rect x="1757" y="1394" width="153" height="26.6"/><text x="1763.5" y="1411.6">二、广泛宣传，加强教育。</text></g>
<g id="O6" class="or"><rect x="1757" y="1544" width="235" height="26.6"/><text x="1763.5" y="1561.6">三、开展各类活动，使禁毒意识深入人心。</text></g>
<g id="O6a" class="or"><rect x="2016" y="1446" width="246" height="57"/><text x="2022.5" y="1463.6"><tspan x="2022.5">第一，组织一次禁毒方面的主题班会。有学生</tspan><tspan x="2022.5" dy="15.2">自己主持，搜集材料，编排节目，让他们在自</tspan><tspan x="2022.5" dy="15.2">己参与中了解_的危害。</tspan></text></g>
<g id="O6b" class="or"><rect x="2016" y="1529" width="246" height="57"/><text x="2022.5" y="1546.6"><tspan x="2022.5">第二，看一部宣传片。组织他们观看了"拒绝_</tspan><tspan x="2022.5" dy="15.2">、关爱未来"的专题宣传教育片，使他们更深</tspan><tspan x="2022.5" dy="15.2">刻的认识到禁毒的重要性和当前严峻的形式。</tspan></text></g>
<g id="O6c" class="or"><rect x="2016" y="1611" width="246" height="57"/><text x="2022.5" y="1628.6"><tspan x="2022.5">第三，读好一本书。各班认真组织学生学习《</tspan><tspan x="2022.5" dy="15.2">禁毒教育》读本，让学生切实掌握_的知识和</tspan><tspan x="2022.5" dy="15.2">国家对禁毒的法律法规。</tspan></text></g>
<g id="O7" class="or"><rect x="1757" y="1845" width="142" height="26.6"/><text x="1763.5" y="1862.6">四、禁毒教育成果初显。</text></g>
<g id="O7a" class="or"><rect x="1920" y="1693" width="248" height="133"/><text x="1926.5" y="1710.6"><tspan x="1926.5">第一，这学期通过_预防教育的系列活动，增</tspan><tspan x="1926.5" dy="15.2">强了学生的识毒、防毒、拒毒意识，从学生的</tspan><tspan x="1926.5" dy="15.2">观后感及征文中可以反映出：学生已经清楚地</tspan><tspan x="1926.5" dy="15.2">认识到_对家庭的危害，轻者倾家荡产，妻离</tspan><tspan x="1926.5" dy="15.2">子散，重者家破人亡。_对国家和民族的危害</tspan><tspan x="1926.5" dy="15.2">：使人们道德沦丧，引发暴力犯罪，使社会混</tspan><tspan x="1926.5" dy="15.2">乱，更重要的它能催毁民族的精神，_是"罪恶</tspan><tspan x="1926.5" dy="15.2">之源"。</tspan></text></g>
<g id="O7b" class="or"><rect x="1920" y="1912" width="248" height="87.4"/><text x="1926.5" y="1929.6"><tspan x="1926.5">第二，通过这次_预防教育的系列活动，使同</tspan><tspan x="1926.5" dy="15.2">学们能身临其境地感触到法律的内涵，增强了</tspan><tspan x="1926.5" dy="15.2">全体同学的法制意识和遵纪守法的观念，本学</tspan><tspan x="1926.5" dy="15.2">期全校无一起重大违纪事件，普通违纪事件也</tspan><tspan x="1926.5" dy="15.2">明显减少。这</tspan></text></g>
<g id="O7b1" class="or"><rect x="2192" y="1852" width="246" height="57"/><text x="2198.5" y="1869.6"><tspan x="2198.5">一点成绩包含着全体班主任及课任教师的辛劳</tspan><tspan x="2198.5" dy="15.2">，同时与本次_预防教育系列活动的开展也有</tspan><tspan x="2198.5" dy="15.2">着直接的联系。</tspan></text></g>
<g id="O7b2" class="or"><rect x="2192" y="1935" width="246" height="57"/><text x="2198.5" y="1952.6"><tspan x="2198.5">禁毒教育是一项长期的工作，我校将常抓不懈</tspan><tspan x="2198.5" dy="15.2">，一如既往的做好禁毒教育宣传工作，确保学</tspan><tspan x="2198.5" dy="15.2">校是社会精神文明窗口的地位。</tspan></text></g>
<g id="O7b3" class="or"><rect x="2192" y="2018" width="94" height="26.6"/><text x="2198.5" y="2035.6">湖东镇后林小学</text></g>

<g id="K1" class="pk"><rect x="1487" y="2134" width="247" height="209"/><text x="1493.5" y="2151.6"><tspan x="1493.5">近几年来，_的危害被越来越多的人认识，禁</tspan><tspan x="1493.5" dy="15.2">毒教育工作也成国全社会共同关注的一项重大</tspan><tspan x="1493.5" dy="15.2">工作。学校作为育人的地方，义不容辞地承担</tspan><tspan x="1493.5" dy="15.2">了对青少年禁毒防毒的教育。我校把禁毒教育</tspan><tspan x="1493.5" dy="15.2">纳入法制教育体系，成为德育工作的一项重要</tspan><tspan x="1493.5" dy="15.2">内容，经过学校全体师生的宣传教育，在全校</tspan><tspan x="1493.5" dy="15.2">掀起了"禁毒、防毒"的新高潮，大大提高了全</tspan><tspan x="1493.5" dy="15.2">校师生的禁毒意识，通过多种多样的方式了解</tspan><tspan x="1493.5" dy="15.2">了_的危害，通过参加一系列的活动，提升了</tspan><tspan x="1493.5" dy="15.2">抗毒、防毒的意识，在学校营造了浓厚的禁毒</tspan><tspan x="1493.5" dy="15.2">宣传氛围，达到了这次行动的目的和要求，营</tspan><tspan x="1493.5" dy="15.2">造了一个文明、净化的校园环境。现将主要工</tspan><tspan x="1493.5" dy="15.2">作总结如下：</tspan></text></g>
<g id="K1a" class="pk"><rect x="1758" y="2153" width="211" height="26.6"/><text x="1764.5" y="2170.6">一、组织健全，责任到人，措施到位。</text></g>
<g id="K1a1" class="pk"><rect x="1992" y="2070" width="247" height="193.8"/><text x="1998.5" y="2087.6"><tspan x="1998.5">学校一向把学生的_预防教育作为一项重要工</tspan><tspan x="1998.5" dy="15.2">作来抓。学校接到上级的文件后，立即召集全</tspan><tspan x="1998.5" dy="15.2">校师生进行禁毒宣传。提出了创建"无毒校园"</tspan><tspan x="1998.5" dy="15.2">的口号，要求各班班主任充分履行_预防教育</tspan><tspan x="1998.5" dy="15.2">工作第一责任人的职责。同时学校禁毒宣传教</tspan><tspan x="1998.5" dy="15.2">育小组立即制定措施，一是根据学校实际，结</tspan><tspan x="1998.5" dy="15.2">合上级行动要求，制订出全校禁毒宣传教育的</tspan><tspan x="1998.5" dy="15.2">行动方案;二是各教学班制订本班禁毒宣传教</tspan><tspan x="1998.5" dy="15.2">育的具体工作计划;三是学校利用一切可利用</tspan><tspan x="1998.5" dy="15.2">的资源，探索禁毒宣传教育工作新途径，拓宽</tspan><tspan x="1998.5" dy="15.2">禁毒宣传教育新领域，全方位进行禁毒宣传教</tspan><tspan x="1998.5" dy="15.2">育。</tspan></text></g>
<g id="K1b" class="pk"><rect x="1758" y="2289" width="246" height="41.8"/><text x="1764.5" y="2306.6"><tspan x="1764.5">二、开展内容丰富、形式多样的禁毒教育活动</tspan><tspan x="1764.5" dy="15.2">。</tspan></text></g>
<g id="K1b1" class="pk"><rect x="2028" y="2289" width="247" height="41.8"/><text x="2034.5" y="2306.6"><tspan x="2034.5">活动期间，根据小学生的认知特点，通过开展</tspan><tspan x="2034.5" dy="15.2">形式多样的禁毒教</tspan></text></g>
<g id="K2" class="pk"><rect x="1487" y="2601" width="247" height="72.2"/><text x="1493.5" y="2618.6"><tspan x="1493.5">育活动，使学生了解_的危害，预防_的基本知</tspan><tspan x="1493.5" dy="15.2">识及禁毒政策与法律法规，确立"珍惜生命，</tspan><tspan x="1493.5" dy="15.2">拒绝_"的意识，掌握拒绝_的方法和技能，养</tspan><tspan x="1493.5" dy="15.2">成健康文明的生活方式。主要做法有：</tspan></text></g>
<g id="K2a" class="pk"><rect x="1758" y="2368" width="246" height="87.4"/><text x="1764.5" y="2385.6"><tspan x="1764.5">(1)进行了一节禁毒主题班会。通过主题班会</tspan><tspan x="1764.5" dy="15.2">的形式开展禁毒宣传教育，用活泼多样、充实</tspan><tspan x="1764.5" dy="15.2">的内容使学生全面认识了_的种植、制成、来</tspan><tspan x="1764.5" dy="15.2">源及危害，学会了预防_的知识技能。激发学</tspan><tspan x="1764.5" dy="15.2">生积极参与禁毒人民战争，自觉远离_。</tspan></text></g>
<g id="K2b" class="pk"><rect x="1758" y="2481" width="246" height="163.4"/><text x="1764.5" y="2498.6"><tspan x="1764.5">(2)组织学生观看戒毒所的影片。让学生体验</tspan><tspan x="1764.5" dy="15.2">吸毒的危害，让吸毒人员的痛苦活生生地展现</tspan><tspan x="1764.5" dy="15.2">在学生面前，学生亲眼目睹了吸毒人员的生活</tspan><tspan x="1764.5" dy="15.2">，亲耳聆听了吸毒人员的述说，这些都深深震</tspan><tspan x="1764.5" dy="15.2">撼了我们学生的心灵，通过这样场面，学生对</tspan><tspan x="1764.5" dy="15.2">_有了更深刻的认识，对吸毒的危害有了深刻</tspan><tspan x="1764.5" dy="15.2">的体会。观看后让学生谈认识、谈体会、谈心</tspan><tspan x="1764.5" dy="15.2">得。同学们都表达了拒毒、禁毒的决心，还号</tspan><tspan x="1764.5" dy="15.2">召全社会共同努力打击吸、_行为，让_在我们</tspan><tspan x="1764.5" dy="15.2">的生活中消失。</tspan></text></g>
<g id="K2c" class="pk"><rect x="1758" y="2833" width="246" height="57"/><text x="1764.5" y="2850.6"><tspan x="1764.5">(3)利用黑板报和橱窗进行禁毒知识专门宣传</tspan><tspan x="1764.5" dy="15.2">，时刻提醒广大学生增强对_危害的认识，千</tspan><tspan x="1764.5" dy="15.2">万不能去接触_。</tspan></text></g>
<g id="K3" class="pk"><rect x="2027" y="2848" width="211" height="26.6"/><text x="2033.5" y="2865.6">三、拓宽宣传教育渠道，共同禁毒防毒</text></g>
<g id="K3a" class="pk"><rect x="2260" y="2670" width="246" height="133"/><text x="2266.5" y="2687.6"><tspan x="2266.5">在坚持课堂教育主渠道作用的同时，充分发挥</tspan><tspan x="2266.5" dy="15.2">了家长和社会教育的辅助作用，避免形成校外</tspan><tspan x="2266.5" dy="15.2">教育盲区。将学校教育、家庭教育、社会教育</tspan><tspan x="2266.5" dy="15.2">结合起来，利用家庭教育阵地进行_预防教育</tspan><tspan x="2266.5" dy="15.2">。通过家长会形式，帮助家长掌握有关禁毒知</tspan><tspan x="2266.5" dy="15.2">识和教育子女拒绝_、远离_的方法，使得家长</tspan><tspan x="2266.5" dy="15.2">能以其特殊而有效的身份影响子女，做好子女</tspan><tspan x="2266.5" dy="15.2">的榜样，</tspan></text></g>
<g id="K3b" class="pk"><rect x="2260" y="2829" width="246" height="41.8"/><text x="2266.5" y="2846.6"><tspan x="2266.5">形成良好的家庭教育氛围。这样的做法深受家</tspan><tspan x="2266.5" dy="15.2">长、社会的赞同，也取得了一定的成效。</tspan></text></g>
<g id="K3c" class="pk"><rect x="2260" y="2897" width="246" height="178.6"/><text x="2266.5" y="2914.6"><tspan x="2266.5">总之，我校紧紧围绕"珍爱生命、远离_"主题</tspan><tspan x="2266.5" dy="15.2">，通过多种途径和方式，开展丰富多彩、行之</tspan><tspan x="2266.5" dy="15.2">有效的禁毒宣传教育活动，培养了学生健康的</tspan><tspan x="2266.5" dy="15.2">生活情趣、_预防意识和社会责任感，提升了</tspan><tspan x="2266.5" dy="15.2">学校德育工作水平，促进了校风的好转，带动</tspan><tspan x="2266.5" dy="15.2">了办学效益的提高。禁毒工作是一项长期的系</tspan><tspan x="2266.5" dy="15.2">统工程。为预防_侵蚀蔓延，净化学校空气，</tspan><tspan x="2266.5" dy="15.2">学校在今后的工作中还将继续努力，不断总结</tspan><tspan x="2266.5" dy="15.2">经验，提高认识，把禁毒工作引向深入，把禁</tspan><tspan x="2266.5" dy="15.2">毒工作作为一项长期的重要任务来抓，以实际</tspan><tspan x="2266.5" dy="15.2">行动为加强学生_预防教育工作而努力奋斗。</tspan></text></g>

<g id="watermarks">
<text class="wm" x="760" y="470" transform="rotate(-32 760 470)">树图 shutu.cn</text>
<text class="wm" x="1870" y="590" transform="rotate(-32 1870 590)">树图 shutu.cn</text>
<text class="wm" x="650" y="1410" transform="rotate(-32 650 1410)">树图 shutu.cn</text>
<text class="wm" x="1920" y="1480" transform="rotate(-32 1920 1480)">树图 shutu.cn</text>
<text class="wm" x="630" y="2480" transform="rotate(-32 630 2480)">树图 shutu.cn</text>
<text class="wm" x="1850" y="2510" transform="rotate(-32 1850 2510)">树图 shutu.cn</text>
</g>
</svg>
